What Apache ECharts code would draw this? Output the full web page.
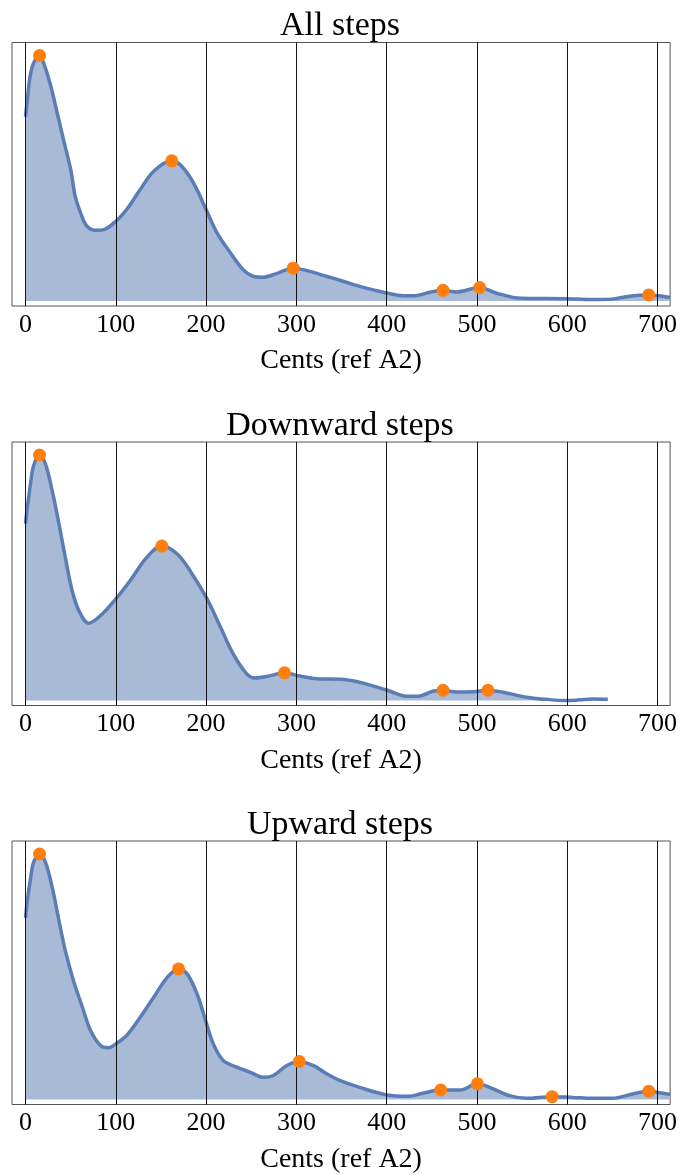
<!DOCTYPE html>
<html>
<head>
<meta charset="utf-8">
<script src="https://cdn.jsdelivr.net/npm/echarts@6/dist/echarts.min.js"></script>
<style>
  html, body { margin: 0; padding: 0; background: #fff; }
  #chart { width: 680px; height: 1175px; }
</style>
</head>
<body>
<div id="chart"></div>
<script>
// ---- data ----
var titles = ['All steps', 'Downward steps', 'Upward steps'];
var xTicks = [0, 100, 200, 300, 400, 500, 600, 700];
var xLabel = 'Cents (ref A2)';

var allCents = [0,2,5,9,15.5,20,28,35,42,50,55,61,68,79,87,100,112,127,142,162,173,186,200,212,227,241,252,263,278,296.5,311,333,348,370,400,418,431,448,462.5,477,503,521,549,600,625,650,669,690,702,714];
var allDensity = [0.75,0.82,0.915,0.97,1.0,0.97,0.875,0.767,0.658,0.536,0.427,0.359,0.305,0.288,0.291,0.325,0.373,0.454,0.529,0.571,0.549,0.481,0.373,0.278,0.196,0.128,0.101,0.097,0.112,0.134,0.125,0.101,0.085,0.060,0.033,0.022,0.022,0.036,0.044,0.037,0.055,0.033,0.0115,0.010,0.006,0.008,0.020,0.025,0.022,0.015];
var allPeaksX = [15.5, 162, 296.5, 462.5, 503, 690.3];
var allPeaksY = [1.0, 0.571, 0.134, 0.044, 0.055, 0.025];

var downCents = [0,2,5.5,9,15.5,22,29.5,37,44,51.6,59,70,83,100,116,134.5,151,168,182,200,216,230,245,254,267,287,304,326,348,370,400,422,435,451,462.5,477,496,512,529,555,577,600,614,628,645];
var downDensity = [0.72,0.787,0.883,0.957,1.0,0.964,0.855,0.72,0.584,0.448,0.367,0.315,0.346,0.414,0.489,0.584,0.629,0.597,0.530,0.421,0.299,0.190,0.109,0.092,0.098,0.113,0.100,0.088,0.087,0.075,0.043,0.018,0.018,0.038,0.042,0.035,0.036,0.042,0.034,0.0135,0.005,0.0,0.003,0.006,0.005];
var downPeaksX = [15.5, 151, 286.8, 462.5, 512.3];
var downPeaksY = [1.0, 0.629, 0.113, 0.042, 0.042];

var upCents = [0,2,5.5,9,15.5,22,29.5,37,44,53,63,72,83,92,100,112,127,142,157,169.5,179,190,200,208,219,234,249,263,274.5,289,303,319,333.5,348,370,400,424,440,460,481,500.5,514,536,555,583,606,628,650,672.5,690,706,714];
var upDensity = [0.74,0.811,0.899,0.967,1.0,0.967,0.865,0.729,0.607,0.485,0.376,0.281,0.220,0.211,0.227,0.261,0.335,0.417,0.498,0.532,0.512,0.430,0.315,0.227,0.159,0.132,0.111,0.091,0.098,0.138,0.155,0.138,0.105,0.078,0.050,0.019,0.0135,0.026,0.039,0.039,0.064,0.050,0.016,0.005,0.012,0.009,0.005,0.005,0.023,0.034,0.026,0.021];
var upPeaksX = [15.5, 169.5, 303.2, 459.9, 500.5, 583.3, 690.3];
var upPeaksY = [1.0, 0.532, 0.155, 0.039, 0.064, 0.012, 0.034];

// ---- build ----
var FONT = "'Liberation Serif', 'Times New Roman', 'DejaVu Serif', serif";
var panels = [
  { xs: allCents, ys: allDensity, px: allPeaksX, py: allPeaksY },
  { xs: downCents, ys: downDensity, px: downPeaksX, py: downPeaksY },
  { xs: upCents, ys: upDensity, px: upPeaksX, py: upPeaksY }
];
var gridTops = [42.5, 442, 841];
var gridH = 263.5;

function zip(a, b) { return a.map(function (v, i) { return [v, b[i]]; }); }

var option = { animation: false, backgroundColor: '#fff', title: [], grid: [], xAxis: [], yAxis: [], series: [] };

panels.forEach(function (p, i) {
  option.title.push({
    text: titles[i], left: 'center', top: gridTops[i] - 38,
    textStyle: { fontFamily: FONT, fontSize: 34, fontWeight: 'normal', color: '#000' }
  });
  option.grid.push({
    left: 12, right: 9, top: gridTops[i], height: gridH,
    show: true, borderColor: '#555', borderWidth: 1, backgroundColor: 'transparent'
  });
  option.xAxis.push({
    type: 'value', gridIndex: i, min: -15, max: 714,
    axisLine: { show: false },
    splitLine: { show: false },
    axisTick: { show: true, customValues: xTicks, length: 4, lineStyle: { color: '#000', width: 1 } },
    axisLabel: { show: true, customValues: xTicks, margin: 6, fontFamily: FONT, fontSize: 26, color: '#000' },
    name: xLabel, nameLocation: 'middle', nameGap: 41,
    nameTextStyle: { fontFamily: FONT, fontSize: 28, color: '#000' }
  });
  option.yAxis.push({
    type: 'value', gridIndex: i, min: -0.02, max: 1.053,
    axisLine: { show: false }, axisTick: { show: false }, axisLabel: { show: false }, splitLine: { show: false }
  });
  option.series.push({
    type: 'line', xAxisIndex: i, yAxisIndex: i, data: zip(p.xs, p.ys),
    smooth: 0.35, symbol: 'none', z: 2,
    lineStyle: { color: '#5a7db6', width: 3.5 },
    areaStyle: { color: '#a8bad6', opacity: 1 },
    markLine: {
      silent: true, symbol: ['none', 'none'], label: { show: false },
      lineStyle: { color: '#000', width: 1, type: 'solid', opacity: 0.9 },
      data: xTicks.map(function (v) { return { xAxis: v }; })
    }
  });
  option.series.push({
    type: 'scatter', xAxisIndex: i, yAxisIndex: i, data: zip(p.px, p.py),
    symbolSize: 13, z: 5,
    itemStyle: { color: '#ff7f0e', opacity: 1 }
  });
});

var chart = echarts.init(document.getElementById('chart'), null, { renderer: 'canvas' });
chart.setOption(option);
</script>
</body>
</html>
